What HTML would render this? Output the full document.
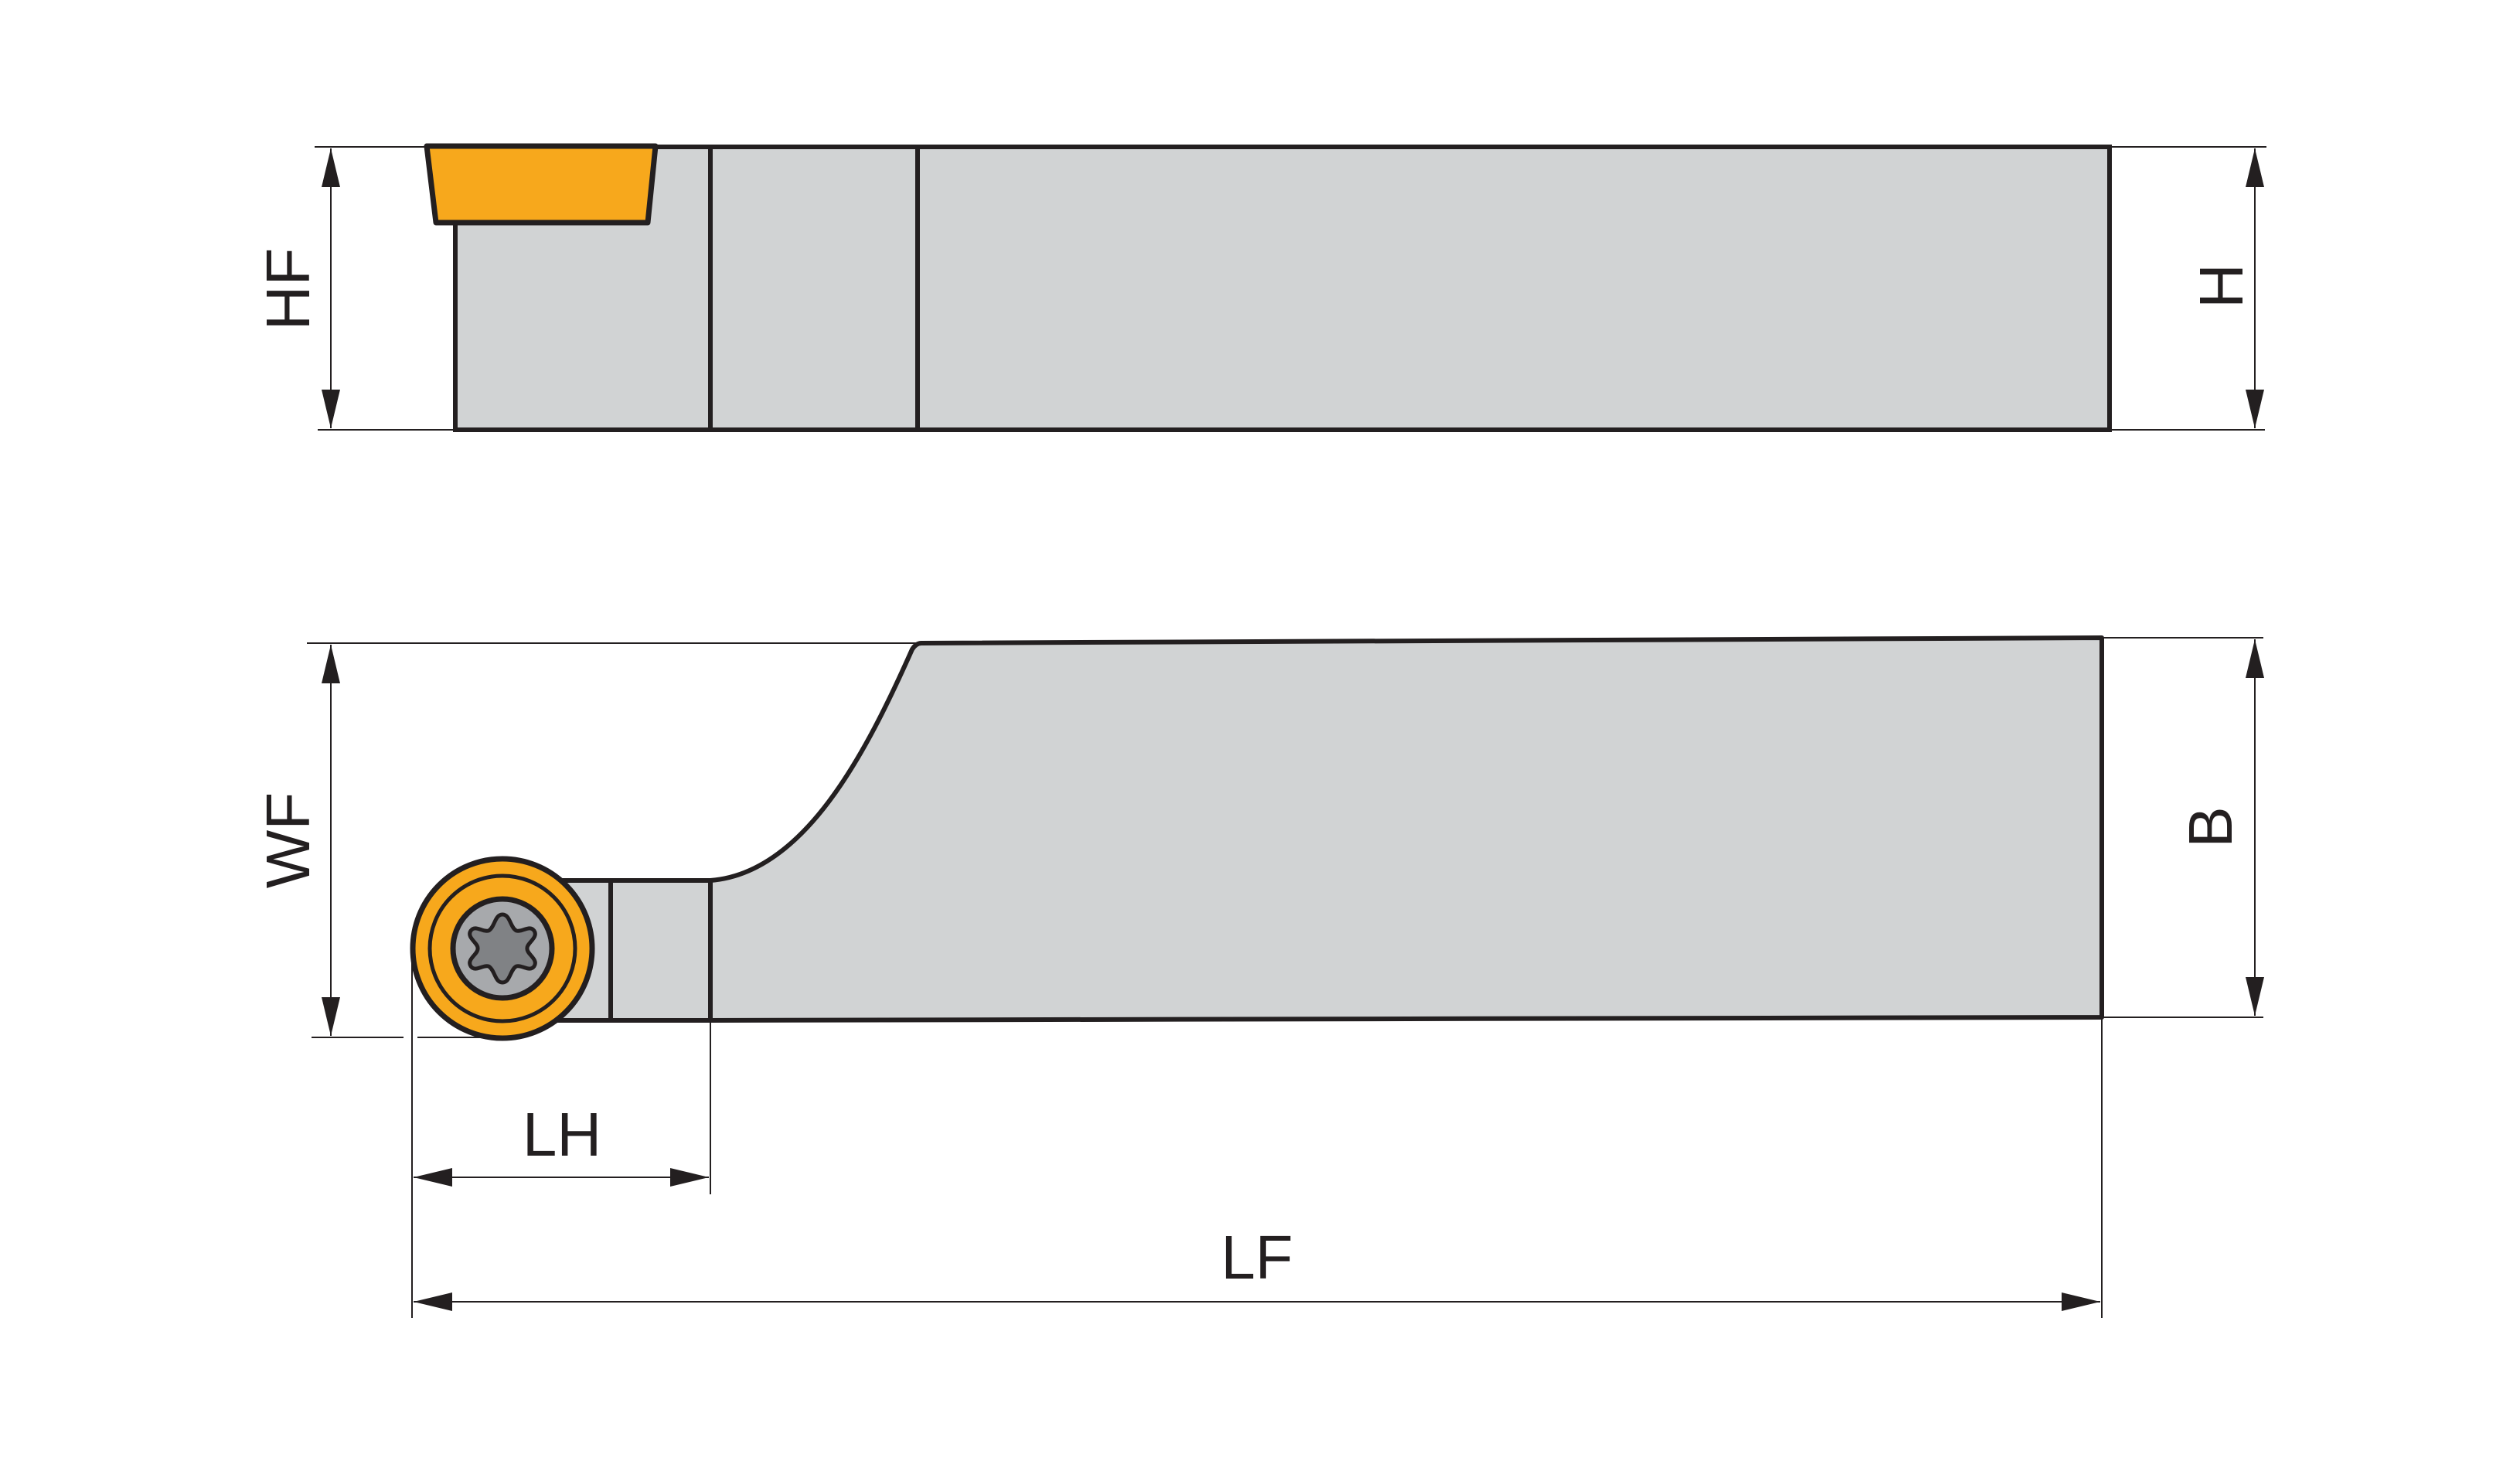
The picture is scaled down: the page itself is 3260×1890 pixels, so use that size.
<!DOCTYPE html>
<html><head><meta charset="utf-8"><style>
html,body{margin:0;padding:0;background:#fff;}
svg{display:block;}
text{font-family:"Liberation Sans",sans-serif;fill:#231f20;font-size:80px;}
</style></head><body>
<svg width="3260" height="1890" viewBox="0 0 3260 1890" xmlns="http://www.w3.org/2000/svg">
<defs>
<marker id="a" viewBox="0 0 50 24" refX="50" refY="12" markerWidth="50" markerHeight="24" markerUnits="userSpaceOnUse" orient="auto">
<path d="M0,0 L50,12 L0,24 Z" fill="#231f20"/></marker>
<marker id="s" viewBox="0 0 50 24" refX="0" refY="12" markerWidth="50" markerHeight="24" markerUnits="userSpaceOnUse" orient="auto">
<path d="M50,0 L0,12 L50,24 Z" fill="#231f20"/></marker>
</defs>
<g stroke="#231f20" fill="none">
<!-- TOP VIEW -->
<rect x="589" y="190" width="2140" height="366" fill="#d1d3d4" stroke-width="6"/>
<line x1="919" y1="190" x2="919" y2="556" stroke-width="6"/>
<line x1="1187" y1="190" x2="1187" y2="556" stroke-width="6"/>
<polygon points="552,189 848,189 838,288 564,288" fill="#f7a81c" stroke-width="7" stroke-linejoin="round"/>
<!-- HF -->
<line x1="407" y1="190" x2="552" y2="190" stroke-width="2"/>
<line x1="411" y1="556" x2="589" y2="556" stroke-width="2"/>
<line x1="428" y1="192" x2="428" y2="554" stroke-width="2" marker-start="url(#s)" marker-end="url(#a)"/>
<!-- H -->
<line x1="2729" y1="190" x2="2932" y2="190" stroke-width="2"/>
<line x1="2729" y1="556" x2="2930" y2="556" stroke-width="2"/>
<line x1="2917" y1="192" x2="2917" y2="554" stroke-width="2" marker-start="url(#s)" marker-end="url(#a)"/>

<!-- BOTTOM VIEW -->
<path d="M919,1139 C1040,1130 1120,975 1180,840 Q1185,832 1192,832 L2719,825 L2719,1316 L919,1320 Z" fill="#d1d3d4" stroke-width="6" stroke-linejoin="round"/>
<rect x="700" y="1139" width="219" height="181" fill="#d1d3d4" stroke-width="6"/>
<line x1="790" y1="1139" x2="790" y2="1320" stroke-width="6"/>
<circle cx="650" cy="1227" r="116" fill="#f7a81c" stroke-width="7"/>
<circle cx="650" cy="1227" r="94" stroke-width="5"/>
<circle cx="650" cy="1227" r="64" fill="#a7a9ac" stroke-width="7"/>
<path d="M650,1183 C660,1183 660,1200 668,1204 C676,1206 685,1196 691,1204 C697,1213 681,1220 682,1227 C681,1234 697,1241 691,1250 C685,1258 676,1248 668,1250 C660,1254 660,1271 650,1271 C640,1271 640,1254 632,1250 C624,1248 615,1258 609,1250 C603,1241 619,1234 618,1227 C619,1220 603,1213 609,1204 C615,1196 624,1206 632,1204 C640,1200 640,1183 650,1183 Z" fill="#808285" stroke-width="5"/>
<!-- WF -->
<line x1="397" y1="832" x2="1187" y2="832" stroke-width="2"/>
<line x1="403" y1="1342" x2="522" y2="1342" stroke-width="2"/>
<line x1="540" y1="1342" x2="650" y2="1342" stroke-width="2"/>
<line x1="428" y1="834" x2="428" y2="1340" stroke-width="2" marker-start="url(#s)" marker-end="url(#a)"/>
<!-- B -->
<line x1="2719" y1="825" x2="2928" y2="825" stroke-width="2"/>
<line x1="2719" y1="1316" x2="2928" y2="1316" stroke-width="2"/>
<line x1="2917" y1="827" x2="2917" y2="1314" stroke-width="2" marker-start="url(#s)" marker-end="url(#a)"/>
<!-- LH / LF -->
<line x1="533" y1="1233" x2="533" y2="1705" stroke-width="2"/>
<line x1="919" y1="1320" x2="919" y2="1545" stroke-width="2"/>
<line x1="2719" y1="1316" x2="2719" y2="1705" stroke-width="2"/>
<line x1="535" y1="1523" x2="917" y2="1523" stroke-width="2" marker-start="url(#s)" marker-end="url(#a)"/>
<line x1="535" y1="1684" x2="2717" y2="1684" stroke-width="2" marker-start="url(#s)" marker-end="url(#a)"/>
</g>
<text transform="translate(400,374) rotate(-90)" text-anchor="middle">HF</text>
<text transform="translate(2901,370) rotate(-90)" text-anchor="middle">H</text>
<text transform="translate(400,1087) rotate(-90)" text-anchor="middle">WF</text>
<text transform="translate(2887,1070) rotate(-90)" text-anchor="middle">B</text>
<text x="727" y="1495" text-anchor="middle">LH</text>
<text x="1626" y="1654" text-anchor="middle">LF</text>
</svg>
</body></html>
